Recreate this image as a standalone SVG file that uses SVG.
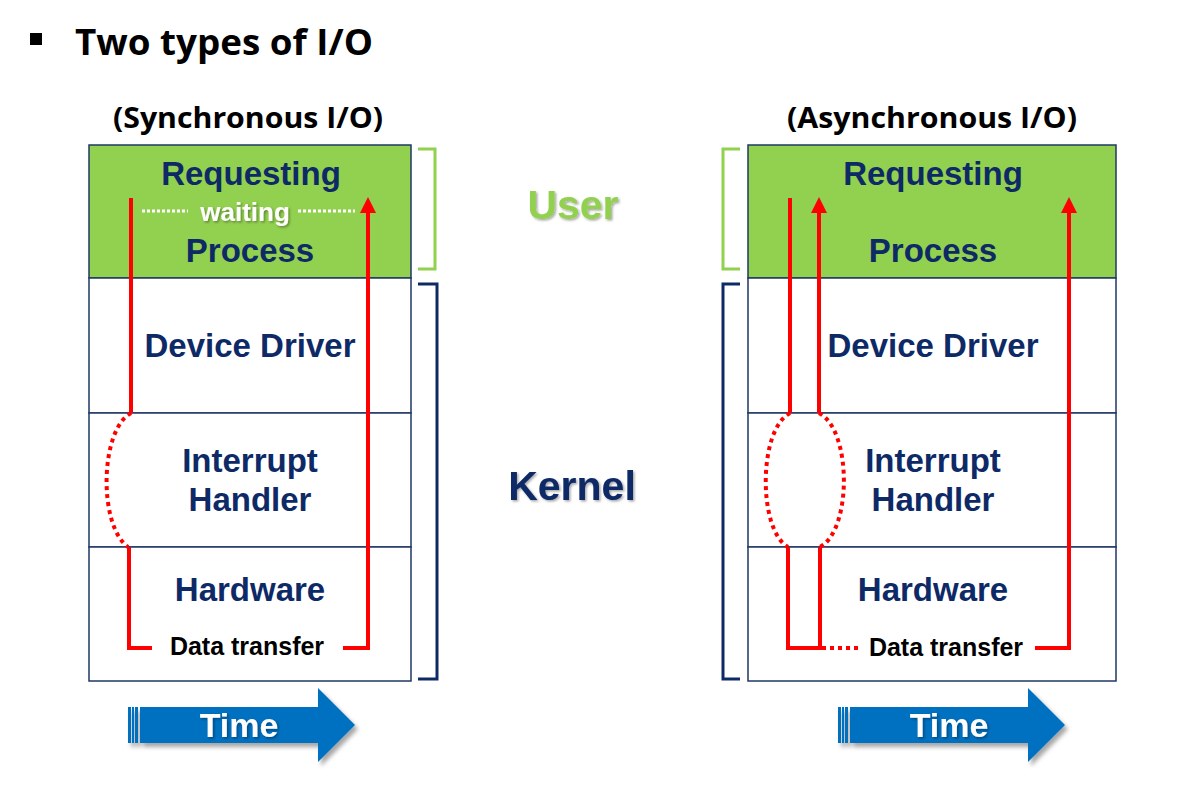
<svg xmlns="http://www.w3.org/2000/svg" width="1178" height="798" viewBox="0 0 1178 798">
<defs>
<style>
.box{fill:#fff;stroke:#1F3864;stroke-width:1.5}
.green{fill:#92D050;stroke:#1F3864;stroke-width:1.5}
.lbl{font-family:"Liberation Sans",Arial,sans-serif;font-weight:bold;font-size:33px;fill:#0E2A66;text-anchor:middle}
.dt{font-family:"Liberation Sans",Arial,sans-serif;font-weight:bold;font-size:25px;fill:#000;text-anchor:middle}
.hd{font-family:"Open Sans","Liberation Sans",sans-serif;font-weight:bold;fill:#000}
.red{fill:none;stroke:#FF0000;stroke-width:4}
.reddot{fill:none;stroke:#FF0000;stroke-width:4;stroke-dasharray:4 4}
.wdot{fill:none;stroke:#fff;stroke-width:3;stroke-dasharray:3 2}
.gbr{fill:none;stroke:#92D050;stroke-width:3}
.kbr{fill:none;stroke:#0E2A66;stroke-width:3}
.time{fill:#0070C0}
.tt{font-family:"Liberation Sans",Arial,sans-serif;font-weight:bold;font-size:34px;fill:#fff;text-anchor:middle}
</style>
<filter id="sh" x="-10%" y="-10%" width="130%" height="140%">
<feDropShadow dx="3" dy="4" stdDeviation="2" flood-color="#000" flood-opacity="0.35"/>
</filter>
<filter id="tsh" x="-10%" y="-10%" width="130%" height="140%">
<feDropShadow dx="1.5" dy="1.5" stdDeviation="1" flood-color="#000" flood-opacity="0.35"/>
</filter>
<g id="timeArrow">
<rect x="0" y="19" width="3" height="36" class="time"/>
<rect x="4" y="19" width="2" height="36" class="time"/>
<rect x="7" y="19" width="3" height="36" class="time"/>
<path d="M12,19 H190 V0 L227,37 L190,74 V55 H12 z" class="time"/>
</g>
</defs>

<g id="title">
<rect x="30" y="33" width="12" height="12" fill="#000"/>
<text x="75" y="55" class="hd" font-size="35" textLength="298" lengthAdjust="spacingAndGlyphs">Two types of I/O</text>
</g>

<g id="sync-heading"><text x="113" y="128" class="hd" font-size="29" textLength="270" lengthAdjust="spacingAndGlyphs">(Synchronous I/O)</text></g>
<g id="async-heading"><text x="787" y="128" class="hd" font-size="29" textLength="290" lengthAdjust="spacingAndGlyphs">(Asynchronous I/O)</text></g>

<!-- Sync stack -->
<g id="sync-requesting">
<rect x="89" y="145" width="322" height="133" class="green"/>
<text x="251" y="185" class="lbl">Requesting</text>
<text x="250" y="262" class="lbl">Process</text>
</g>
<g id="sync-driver">
<rect x="89" y="278" width="322" height="135" class="box"/>
<text x="250" y="357" class="lbl">Device Driver</text>
</g>
<g id="sync-interrupt">
<rect x="89" y="413" width="322" height="134" class="box"/>
<text x="250" y="472" class="lbl">Interrupt</text>
<text x="250" y="511" class="lbl">Handler</text>
</g>
<g id="sync-hardware">
<rect x="89" y="547" width="322" height="134" class="box"/>
<text x="250" y="601" class="lbl">Hardware</text>
<text x="247" y="655" class="dt">Data transfer</text>
</g>

<!-- Async stack -->
<g id="async-requesting">
<rect x="748" y="145" width="368" height="133" class="green"/>
<text x="933" y="185" class="lbl">Requesting</text>
<text x="933" y="262" class="lbl">Process</text>
</g>
<g id="async-driver">
<rect x="748" y="278" width="368" height="135" class="box"/>
<text x="933" y="357" class="lbl">Device Driver</text>
</g>
<g id="async-interrupt">
<rect x="748" y="413" width="368" height="134" class="box"/>
<text x="933" y="472" class="lbl">Interrupt</text>
<text x="933" y="511" class="lbl">Handler</text>
</g>
<g id="async-hardware">
<rect x="748" y="547" width="368" height="134" class="box"/>
<text x="933" y="601" class="lbl">Hardware</text>
<text x="946" y="656" class="dt">Data transfer</text>
</g>

<!-- Brackets and labels -->
<g id="user-label">
<path d="M418,149 H435 V269 H418" class="gbr"/>
<path d="M740,149 H723 V269 H740" class="gbr"/>
<text x="573" y="219" font-family="Liberation Sans,Arial,sans-serif" font-weight="bold" font-size="41" fill="#92D050" text-anchor="middle" filter="url(#tsh)">User</text>
</g>
<g id="kernel-label">
<path d="M418,284 H437 V679 H418" class="kbr"/>
<path d="M740,284 H723 V679 H740" class="kbr"/>
<text x="572" y="500" font-family="Liberation Sans,Arial,sans-serif" font-weight="bold" font-size="41" fill="#0E2A66" text-anchor="middle" filter="url(#tsh)">Kernel</text>
</g>

<!-- Connectors -->
<g id="connectors">
<!-- sync -->
<path d="M131,198 V413" class="red"/>
<path d="M131,413 C100,430 98,525 128,547" class="reddot"/>
<path d="M129,547 V648 H152" class="red"/>
<path d="M343,648 H368 V212" class="red"/>
<path d="M360,213 L368,197 L376,213 z" fill="#FF0000"/>
<path d="M142,211 H188" class="wdot"/>
<path d="M298,211 H355" class="wdot"/>
<text x="245" y="221" font-family="Liberation Sans,Arial,sans-serif" font-weight="bold" font-size="26" fill="#fff" text-anchor="middle" filter="url(#tsh)">waiting</text>
<!-- async -->
<path d="M790,198 V413" class="red"/>
<path d="M819,413 V212" class="red"/>
<path d="M811,213 L819,197 L827,213 z" fill="#FF0000"/>
<path d="M790,413 C758,430 758,530 788,547" class="reddot"/>
<path d="M819,413 C852,430 852,530 820,547" class="reddot"/>
<path d="M788,547 V648 H826" class="red"/>
<path d="M820,547 V648" class="red"/>
<path d="M830,648 H858" class="reddot"/>
<path d="M1035,648 H1069 V212" class="red"/>
<path d="M1061,213 L1069,197 L1077,213 z" fill="#FF0000"/>
</g>

<!-- Time arrows -->
<g id="time-left" transform="translate(128,688)">
<use href="#timeArrow" filter="url(#sh)"/>
<text x="111" y="49" class="tt" filter="url(#tsh)">Time</text>
</g>
<g id="time-right" transform="translate(838,688)">
<use href="#timeArrow" filter="url(#sh)"/>
<text x="111" y="49" class="tt" filter="url(#tsh)">Time</text>
</g>
</svg>
